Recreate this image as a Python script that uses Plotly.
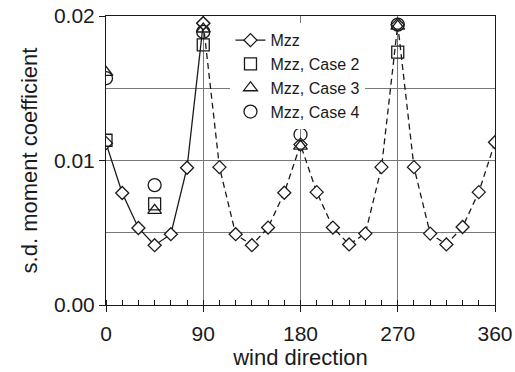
import plotly.graph_objects as go

# Mzz (every 15 degrees, 0..360)
angles = [0, 15, 30, 45, 60, 75, 90, 105, 120, 135, 150, 165, 180,
          195, 210, 225, 240, 255, 270, 285, 300, 315, 330, 345, 360]
mzz = [0.0112, 0.00775, 0.00533, 0.00414, 0.0049, 0.0095, 0.0195,
       0.00954, 0.0049, 0.00414, 0.00536, 0.00777, 0.0111,
       0.00781, 0.00536, 0.00419, 0.00494, 0.00954, 0.0194,
       0.00954, 0.00494, 0.00419, 0.0054, 0.00781, 0.01126]

case_angles = [0, 45, 90, 180, 270]
case2 = [0.0114, 0.0070, 0.0180, None, 0.0175]
case3 = [0.0161, 0.00655, 0.0191, 0.0110, 0.0193]
case4 = [0.0157, 0.0083, 0.0189, 0.0118, 0.0194]

x_ticks = [0, 90, 180, 270, 360]
y_ticks = [0.0, 0.01, 0.02]

INK = "#1a1a1a"
FONT = "Liberation Sans, Arial, sans-serif"

solid_x = [a for a in angles if a <= 90]
solid_y = [v for a, v in zip(angles, mzz) if a <= 90]
dash_x = [a for a in angles if a >= 90]
dash_y = [v for a, v in zip(angles, mzz) if a >= 90]

fig = go.Figure()
fig.add_trace(go.Scatter(
    x=dash_x, y=dash_y, mode="lines+markers", showlegend=False,
    line=dict(color=INK, width=1.3, dash="6px,4px"),
    marker=dict(symbol="diamond", size=10, color="white",
                line=dict(color=INK, width=1.3))))
fig.add_trace(go.Scatter(
    x=solid_x, y=solid_y, mode="lines+markers", name="Mzz",
    line=dict(color=INK, width=1.3),
    marker=dict(symbol="diamond", size=10, color="white",
                line=dict(color=INK, width=1.3))))
fig.add_trace(go.Scatter(
    x=case_angles, y=case2, mode="markers", name="Mzz, Case 2",
    marker=dict(symbol="square-open", size=12, color=INK,
                line=dict(color=INK, width=1.3))))
fig.add_trace(go.Scatter(
    x=case_angles, y=case3, mode="markers", name="Mzz, Case 3",
    marker=dict(symbol="triangle-up-open", size=12, color=INK,
                line=dict(color=INK, width=1.3))))
fig.add_trace(go.Scatter(
    x=case_angles, y=case4, mode="markers", name="Mzz, Case 4",
    marker=dict(symbol="circle-open", size=13, color=INK,
                line=dict(color=INK, width=1.3))))

fig.update_layout(
    width=515, height=372,
    margin=dict(l=106, r=20, t=16, b=67),
    paper_bgcolor="white", plot_bgcolor="white",
    font=dict(family=FONT, color=INK, size=21),
    showlegend=True,
    legend=dict(x=0.32, y=0.975, xanchor="left", yanchor="top",
                bgcolor="white", borderwidth=0,
                font=dict(size=16, family=FONT, color=INK),
                itemwidth=30, tracegroupgap=0),
    xaxis=dict(range=[0, 360], tickvals=x_ticks, ticktext=[str(v) for v in x_ticks],
               automargin=False,
               showgrid=True, gridcolor="#777", gridwidth=1,
               showline=True, linecolor=INK, linewidth=1, mirror=True,
               ticks="outside", ticklen=6, tickcolor=INK,
               ticklabelstandoff=4,
               minor=dict(dtick=15, ticks="inside", ticklen=5, tickcolor=INK, showgrid=False),
               zeroline=False,
               title=dict(text="wind direction", font=dict(size=22), standoff=0),
               tickfont=dict(size=21)),
    yaxis=dict(range=[0, 0.02], tickvals=y_ticks, tickformat=".2f",
               automargin=False,
               showgrid=True, gridcolor="#777", gridwidth=1,
               minor=dict(dtick=0.005, showgrid=True, gridcolor="#777", gridwidth=1),
               showline=True, linecolor=INK, linewidth=1, mirror=True,
               ticks="outside", ticklen=6, tickcolor=INK,
               zeroline=False,
               title=dict(text="s.d. moment coefficient", font=dict(size=22), standoff=10),
               tickfont=dict(size=21)),
)

fig.write_html("out.html")
